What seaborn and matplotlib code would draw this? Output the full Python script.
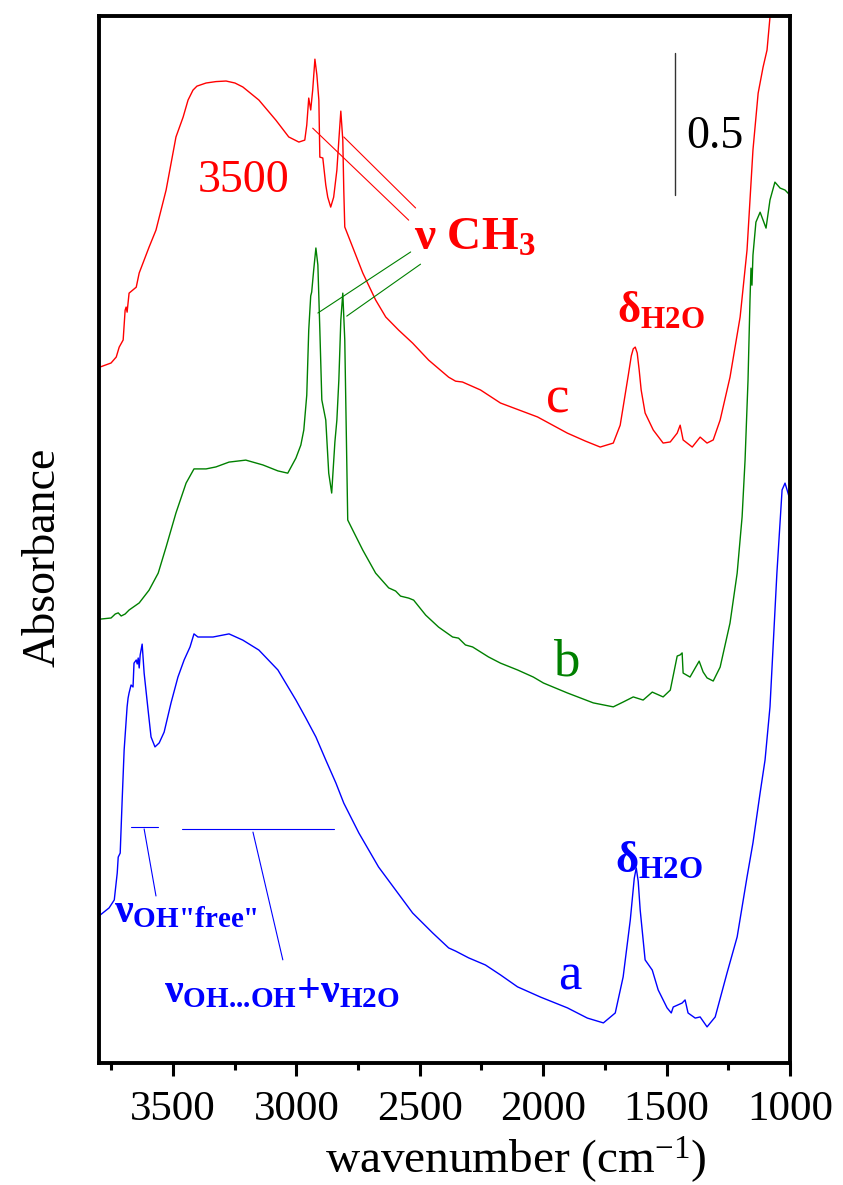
import matplotlib
matplotlib.use("Agg")
import matplotlib.pyplot as plt
from matplotlib.ticker import MultipleLocator
import pandas as pd
import seaborn as sns

# spectrum c (red) - wavenumber (cm-1) / absorbance
wn_c = [3795, 3751, 3730, 3718, 3702, 3694, 3690, 3686, 3678, 3649, 3637, 3597,
        3569, 3528, 3488, 3459, 3439, 3419, 3403, 3366, 3326, 3285, 3249, 3217,
        3152, 3083, 3031, 2990, 2966, 2958, 2950, 2942, 2934, 2925, 2917, 2909,
        2905, 2893, 2881, 2873, 2861, 2849, 2836, 2828, 2820, 2812, 2808, 2804,
        2772, 2731, 2679, 2638, 2586, 2529, 2464, 2383, 2355, 2327, 2254, 2173,
        2023, 1902, 1829, 1769, 1716, 1688, 1676, 1655, 1643, 1635, 1627, 1619,
        1611, 1603, 1587, 1554, 1514, 1485, 1457, 1445, 1433, 1396, 1364, 1336,
        1311, 1283, 1243, 1202, 1174, 1162, 1150, 1129, 1109, 1093, 1081, 1069]
abs_c = [2.451, 2.465, 2.486, 2.521, 2.546, 2.651, 2.662, 2.644, 2.711, 2.732, 2.782, 2.873,
         2.933, 3.074, 3.261, 3.331, 3.391, 3.426, 3.440, 3.451, 3.456, 3.458, 3.451, 3.437,
         3.391, 3.320, 3.261, 3.243, 3.250, 3.303, 3.398, 3.356, 3.426, 3.535, 3.479, 3.391,
         3.190, 3.187, 3.092, 3.049, 3.014, 3.049, 3.144, 3.250, 3.352, 3.250, 3.074, 2.944,
         2.873, 2.782, 2.687, 2.627, 2.581, 2.535, 2.475, 2.415, 2.401, 2.398, 2.370, 2.324,
         2.275, 2.218, 2.190, 2.169, 2.183, 2.246, 2.310, 2.423, 2.490, 2.515, 2.521, 2.500,
         2.440, 2.370, 2.289, 2.229, 2.183, 2.187, 2.218, 2.246, 2.194, 2.169, 2.204, 2.183,
         2.194, 2.264, 2.415, 2.627, 2.863, 3.039, 3.215, 3.415, 3.507, 3.567, 3.683, 3.813]

# spectrum b (green)
wn_b = [3795, 3751, 3734, 3722, 3710, 3694, 3678, 3637, 3597, 3560, 3528, 3488,
        3447, 3415, 3366, 3326, 3273, 3205, 3136, 3075, 3035, 3002, 2982, 2970,
        2958, 2950, 2942, 2938, 2930, 2921, 2913, 2905, 2897, 2881, 2869, 2857,
        2844, 2836, 2828, 2820, 2812, 2804, 2800, 2792, 2772, 2731, 2679, 2626,
        2598, 2578, 2545, 2525, 2476, 2424, 2367, 2343, 2315, 2286, 2222, 2173,
        2104, 2040, 1999, 1902, 1797, 1716, 1676, 1635, 1595, 1558, 1514, 1485,
        1457, 1445, 1437, 1433, 1405, 1384, 1368, 1352, 1336, 1311, 1283, 1243,
        1214, 1194, 1182, 1170, 1162, 1158, 1154, 1150, 1138, 1121, 1109, 1097,
        1081, 1061, 1040, 1020, 1000]
abs_b = [1.563, 1.567, 1.581, 1.585, 1.574, 1.581, 1.595, 1.620, 1.665, 1.725, 1.817, 1.937,
         2.042, 2.092, 2.092, 2.099, 2.116, 2.123, 2.106, 2.085, 2.077, 2.130, 2.176, 2.229,
         2.352, 2.581, 2.701, 2.715, 2.792, 2.870, 2.810, 2.581, 2.335, 2.264, 2.077, 2.007,
         2.187, 2.264, 2.405, 2.616, 2.711, 2.546, 2.335, 1.912, 1.877, 1.806, 1.725, 1.673,
         1.662, 1.644, 1.637, 1.630, 1.577, 1.535, 1.500, 1.496, 1.472, 1.465, 1.430, 1.408,
         1.384, 1.359, 1.338, 1.303, 1.268, 1.254, 1.271, 1.289, 1.278, 1.306, 1.289, 1.313,
         1.433, 1.437, 1.444, 1.373, 1.359, 1.391, 1.415, 1.377, 1.356, 1.345, 1.394, 1.549,
         1.725, 1.923, 2.123, 2.405, 2.687, 2.799, 2.739, 2.845, 2.961, 2.996, 2.968, 2.940,
         3.039, 3.102, 3.081, 3.074, 3.056]

# spectrum a (blue)
wn_a = [3795, 3759, 3738, 3726, 3722, 3714, 3706, 3698, 3686, 3682, 3678, 3670,
        3662, 3658, 3649, 3645, 3641, 3637, 3633, 3625, 3617, 3601, 3589, 3573,
        3556, 3536, 3508, 3480, 3455, 3431, 3415, 3399, 3338, 3273, 3217, 3152,
        3075, 3002, 2962, 2921, 2881, 2840, 2808, 2747, 2667, 2598, 2529, 2448,
        2383, 2355, 2302, 2234, 2173, 2104, 2011, 1902, 1821, 1756, 1708, 1676,
        1647, 1631, 1623, 1615, 1607, 1587, 1558, 1534, 1498, 1481, 1473, 1437,
        1425, 1413, 1384, 1364, 1336, 1303, 1255, 1214, 1174, 1150, 1121, 1101,
        1081, 1053, 1032, 1020, 1008, 1000]
abs_a = [0.521, 0.546, 0.574, 0.669, 0.725, 0.739, 0.926, 1.102, 1.254, 1.285, 1.303, 1.331,
         1.324, 1.408, 1.419, 1.405, 1.426, 1.391, 1.437, 1.475, 1.373, 1.243, 1.148, 1.113,
         1.127, 1.165, 1.268, 1.359, 1.419, 1.465, 1.511, 1.500, 1.500, 1.511, 1.489, 1.454,
         1.384, 1.278, 1.215, 1.148, 1.067, 0.986, 0.915, 0.810, 0.690, 0.609, 0.528, 0.458,
         0.405, 0.394, 0.370, 0.345, 0.310, 0.268, 0.232, 0.194, 0.158, 0.141, 0.176, 0.303,
         0.504, 0.650, 0.687, 0.640, 0.539, 0.363, 0.327, 0.257, 0.194, 0.176, 0.197, 0.211,
         0.222, 0.176, 0.158, 0.162, 0.127, 0.162, 0.317, 0.444, 0.655, 0.775, 0.951, 1.067,
         1.254, 1.725, 2.018, 2.042, 2.007, 1.982]

colors = {"a": "#0000ff", "b": "#008000", "c": "#ff0000"}

df = pd.concat([
    pd.DataFrame({"wavenumber": wn_a, "absorbance": abs_a, "sample": "a"}),
    pd.DataFrame({"wavenumber": wn_b, "absorbance": abs_b, "sample": "b"}),
    pd.DataFrame({"wavenumber": wn_c, "absorbance": abs_c, "sample": "c"}),
], ignore_index=True)

sns.set_style("ticks")
plt.rcParams["font.family"] = ["Liberation Serif", "DejaVu Serif"]
plt.rcParams["mathtext.fontset"] = "custom"
plt.rcParams["mathtext.rm"] = "Liberation Serif:bold"
plt.rcParams["mathtext.bf"] = "Liberation Serif:bold"
plt.rcParams["mathtext.default"] = "regular"
plt.rcParams["text.color"] = "black"
plt.rcParams["axes.labelcolor"] = "black"
plt.rcParams["xtick.color"] = "black"

fig = plt.figure(figsize=(8.43, 11.85), dpi=100)
ax = fig.add_axes([0.1174, 0.1030, 0.8197, 0.8835])

sns.lineplot(data=df, x="wavenumber", y="absorbance", hue="sample",
             palette=colors, estimator=None, sort=False, legend=False,
             linewidth=1.0, ax=ax)

ax.set_xlim(3800, 1000)
ax.set_ylim(0, 3.687)
ax.xaxis.set_major_locator(MultipleLocator(500))
ax.xaxis.set_minor_locator(MultipleLocator(250))
ax.set_yticks([])
ax.tick_params(axis="x", which="major", direction="out", length=9, width=2.2,
               labelsize=31, pad=11, top=False, color="black", labelcolor="black")
ax.tick_params(axis="x", which="minor", direction="out", length=5, width=2.2,
               top=False, color="black")
for sp in ax.spines.values():
    sp.set_visible(True)
    sp.set_linewidth(2.8)
    sp.set_color("black")

ax.set_xlabel("wavenumber (cm$^{-1}$)", fontsize=34, color="black")
ax.xaxis.set_label_coords(0.603, -0.068)
ax.set_ylabel("Absorbance", fontsize=33, color="black")
ax.yaxis.set_label_coords(-0.05, 0.483)

# scale bar
ax.plot([1465, 1465], [3.056, 3.556], color="#333333", linewidth=1.0)
ax.text(1421, 3.222, "0.5", fontsize=33, color="black", ha="left", va="baseline")

# labels
ax.text(3213, 3.106, "3500", fontsize=33, color="red", ha="center", va="center")
ax.text(2525, 2.863, "ν CH$_3$", fontsize=34, color="red", fontweight="bold",
        ha="left", va="baseline")
ax.text(1700, 2.609, "δ$_{H2O}$", fontsize=32, color="red", fontweight="bold",
        ha="left", va="baseline")
ax.text(1708, 0.673, "δ$_{H2O}$", fontsize=32, color="blue", fontweight="bold",
        ha="left", va="baseline")
ax.text(1943, 2.292, "c", fontsize=38, color="red", ha="center", va="baseline")
ax.text(1906, 1.366, "b", fontsize=38, color="green", ha="center", va="baseline")
ax.text(1894, 0.257, "a", fontsize=38, color="blue", ha="center", va="baseline")
ax.text(3738, 0.496, r'ν$_{\text{OH"free"}}$', fontsize=30, color="blue",
        fontweight="bold", ha="left", va="baseline")
ax.text(3536, 0.215, r"ν$_{\text{OH...OH}}$+ν$_{H2O}$", fontsize=30, color="blue",
        fontweight="bold", ha="left", va="baseline")

# leader lines
ax.plot([2934, 2545], [3.292, 2.968], color="red", linewidth=0.8)
ax.plot([2808, 2517], [3.261, 3.011], color="red", linewidth=0.8)
ax.plot([2913, 2537], [2.641, 2.856], color="green", linewidth=0.8)
ax.plot([2796, 2497], [2.630, 2.813], color="green", linewidth=0.8)
ax.plot([3670, 3561], [0.831, 0.831], color="blue", linewidth=0.8)
ax.plot([3463, 2849], [0.824, 0.824], color="blue", linewidth=0.8)
ax.plot([3617, 3569], [0.824, 0.588], color="blue", linewidth=0.8)
ax.plot([3176, 3055], [0.813, 0.363], color="blue", linewidth=0.8)

fig.savefig("out.png", dpi=100)
